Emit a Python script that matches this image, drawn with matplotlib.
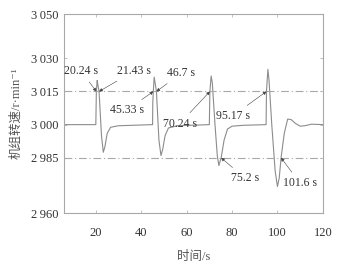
import matplotlib
matplotlib.use("Agg")
import matplotlib.pyplot as plt

plt.rcParams['font.family'] = ['Liberation Serif', 'Noto Sans CJK SC', 'DejaVu Serif']
plt.rcParams['axes.unicode_minus'] = False

# speed curve (time s, speed r/min)
t = [6, 20.0, 20.24, 20.6, 20.9, 21.43, 22.5, 23.3, 24.0, 25.0, 26.5, 30, 45.0,
     45.1, 45.33, 45.7, 46.1, 46.7, 47.8, 48.7, 49.5, 50.5, 52, 56, 70.0,
     70.24, 70.8, 71.3, 72.5, 73.5, 74.2, 75.2, 76.5, 78, 80, 85, 95.0,
     95.17, 95.8, 96.3, 97.5, 99.0, 100.0, 100.8, 101.6, 103, 104.5, 106,
     108, 110, 112, 115, 120]
speed = [3000, 3000, 3015, 3020, 3018, 3015, 2995, 2987.5, 2990, 2996, 2998.8, 2999.5, 3000,
         3010, 3015, 3021.5, 3019, 3015, 2993, 2986, 2989, 2995, 2998.5, 2999.5, 3000,
         3015, 3022, 3019, 3000, 2986, 2981.5, 2985, 2993, 2998, 2999.3, 2999.7, 3000,
         3015, 3025, 3020, 3000, 2979, 2972, 2976, 2985, 2996, 3002.5, 3002.3,
         3000.5, 2999.3, 2999.5, 3000.2, 3000]

limits = [3015, 2985]
yticks = [2960, 2985, 3000, 3015, 3030, 3050]
ytick_labels = ['2\u2009960', '2\u2009985', '3\u2009000', '3\u2009015', '3\u2009030', '3\u2009050']
xticks = [20, 40, 60, 80, 100, 120]

# (label, point, text position)
notes = [
    ("20.24 s", (20.24, 3015), (6.0, 3024.3)),
    ("21.43 s", (21.43, 3015), (29.5, 3024.3)),
    ("45.33 s", (45.33, 3015), (26.2, 3006.6)),
    ("46.7 s", (46.7, 3015), (51.5, 3023.3)),
    ("70.24 s", (70.24, 3015), (49.5, 3000.5)),
    ("95.17 s", (95.17, 3015), (72.8, 3004.0)),
    ("75.2 s", (75.2, 2985), (79.5, 2975.8)),
    ("101.6 s", (101.6, 2985), (102.5, 2973.5)),
]

fig = plt.figure(figsize=(3.37, 2.66), dpi=100)
ax = fig.add_axes([0.19, 0.199, 0.768, 0.748])

gray = '#a8a8a8'
ax.plot(t, speed, color='#8c8c8c', lw=0.8)
for v in limits:
    ax.axhline(v, color=gray, lw=0.8, ls=(0, (7, 2.5, 1, 2.5)))

for label, xy, xytext in notes:
    ax.annotate(label, xy=xy, xytext=xytext, fontsize=8.5, color='#333333',
                va='center', ha='left',
                arrowprops=dict(arrowstyle='-|>', color='#444444', lw=0.4,
                                mutation_scale=5, shrinkA=2, shrinkB=0))

ax.set_xlim(6, 120)
ax.set_ylim(2960, 3050)
ax.set_xticks(xticks)
ax.set_yticks(yticks)
ax.set_yticklabels(ytick_labels)
ax.tick_params(direction='in', length=2, width=0.5, color=gray, labelsize=9,
               labelcolor='#333333', top=True, right=True)
ax.tick_params(axis='x', pad=10)
ax.tick_params(axis='y', pad=4)
for s in ax.spines.values():
    s.set_color(gray)
    s.set_linewidth(0.8)

ax.set_xlabel('时间/s', fontsize=9, color='#555555', labelpad=9)
ax.set_ylabel('机组转速/r·min\u207b\u00b9', fontsize=9, color='#555555', labelpad=6)

fig.savefig('out.png', dpi=100)
